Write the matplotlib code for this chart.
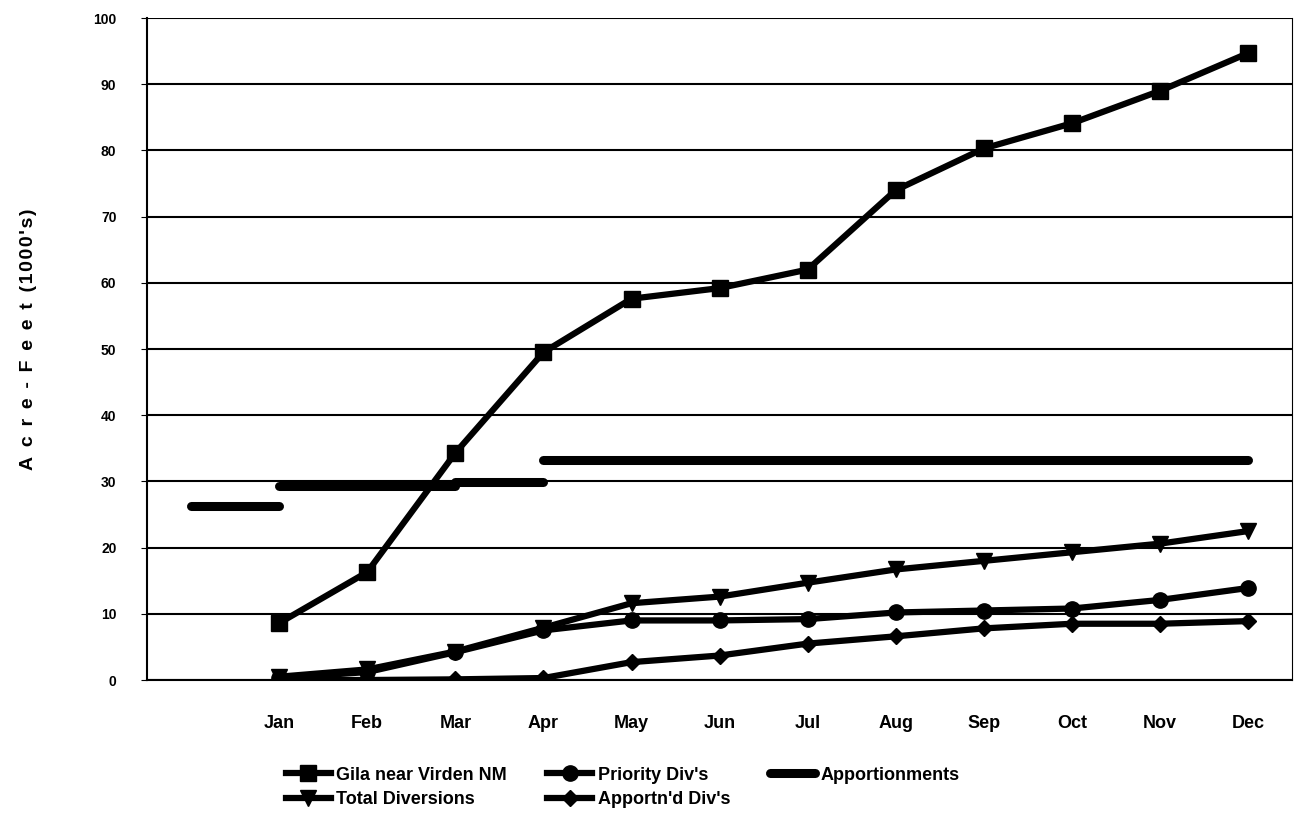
import numpy as np
import matplotlib.pyplot as plt

plt.rcParams['font.family'] = ['Liberation Sans', 'DejaVu Sans']
plt.rcParams['font.weight'] = 'bold'

# categories (first slot is empty)
months = ['', 'Jan', 'Feb', 'Mar', 'Apr', 'May', 'Jun', 'Jul', 'Aug', 'Sep', 'Oct', 'Nov', 'Dec']

# series values, Jan..Dec
gila = [8.6, 16.3, 34.3, 49.5, 57.6, 59.2, 62.0, 74.0, 80.3, 84.1, 89.0, 94.7]
priority = [0.3, 1.2, 4.2, 7.5, 9.0, 9.0, 9.2, 10.2, 10.5, 10.8, 12.1, 13.9]
total_div = [0.5, 1.6, 4.3, 7.9, 11.6, 12.6, 14.7, 16.7, 18.0, 19.3, 20.6, 22.5]
apportnd = [0.0, 0.0, 0.1, 0.3, 2.7, 3.7, 5.5, 6.6, 7.8, 8.5, 8.5, 8.9]

# apportionments as horizontal steps (start index, end index, value)
ap_start = [0, 1, 3, 4]
ap_end = [1, 3, 4, 12]
ap_value = [26.3, 29.3, 29.9, 33.2]

x = np.arange(1, 13)

fig = plt.figure(figsize=(12.94, 8.19), dpi=100)
ax = fig.add_axes([0.1136, 0.1697, 0.885, 0.8083])

lw = 4.5
ax.plot(x, gila, 'k-', marker='s', ms=12, lw=lw, label='Gila near Virden NM')
ax.plot(x, total_div, 'k-', marker='v', ms=11, lw=lw, label='Total Diversions')
ax.plot(x, priority, 'k-', marker='o', ms=11, lw=lw, label="Priority Div's")
ax.plot(x, apportnd, 'k-', marker='D', ms=8, lw=lw, label="Apportn'd Div's")
for i in range(len(ap_value)):
    ax.plot([ap_start[i], ap_end[i]], [ap_value[i], ap_value[i]], 'k-', lw=6.5,
            solid_capstyle='round', label='Apportionments' if i == 0 else None)

ax.set_xlim(-0.5, 12.5)
ax.set_ylim(0, 100)
ax.set_yticks(np.arange(0, 101, 10))
ax.set_xticks(np.arange(13))
ax.set_xticklabels(months, fontsize=13)
ax.tick_params(axis='x', length=0, pad=25)
ax.tick_params(axis='y', labelsize=10, length=4, pad=18)
ax.grid(axis='y', color='black', lw=1.5)
ax.set_axisbelow(True)
for s in ax.spines.values():
    s.set_linewidth(1.5)
ax.spines['top'].set_visible(False)
ax.spines['right'].set_linewidth(0.8)

# spaced-out axis title like the original
acre = '\u2002'.join('Acre-Feet')
thou = '\u200a'.join("(1000's)")
ax.set_ylabel(acre + '  ' + thou, fontsize=14, fontweight='bold')
ax.yaxis.set_label_coords(-0.096, 0.514)

ax.legend(ncol=3, loc='upper left', bbox_to_anchor=(0.115, -0.12), frameon=False,
          fontsize=13, handlelength=2.5, handletextpad=0.3, columnspacing=2.2,
          labelspacing=0.4, borderaxespad=0)

plt.savefig('out.png', dpi=100)
